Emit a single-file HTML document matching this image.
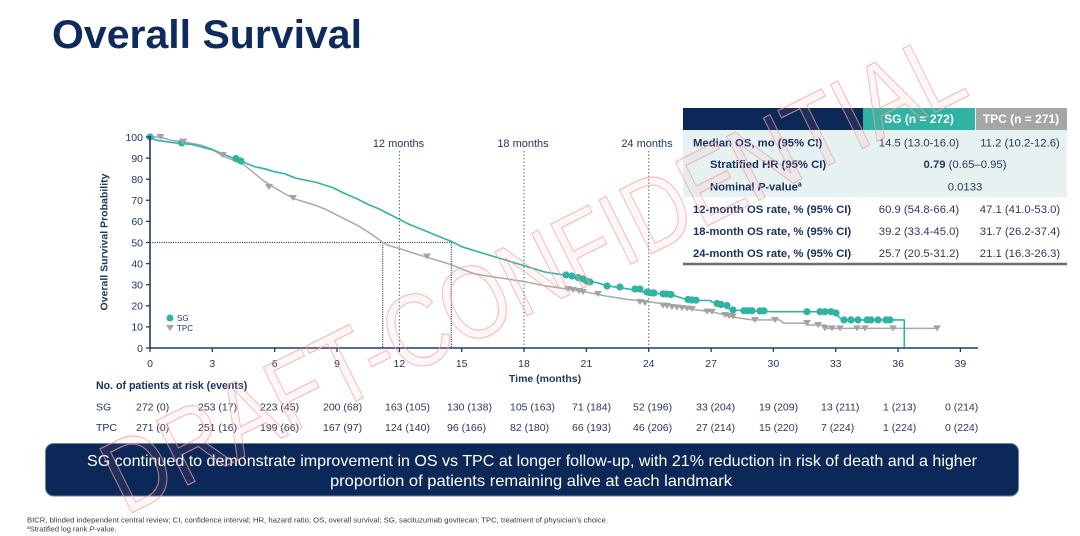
<!DOCTYPE html>
<html>
<head>
<meta charset="utf-8">
<style>
  html,body{margin:0;padding:0;background:#fff;}
  body{width:1080px;height:536px;overflow:hidden;}
  svg{display:block;}
  text{font-family:"Liberation Sans", Arial, sans-serif;}
</style>
</head>
<body>
<svg width="1080" height="536" viewBox="0 0 1080 536" xmlns="http://www.w3.org/2000/svg">
  <rect x="0" y="0" width="1080" height="536" fill="#ffffff"/>

  <!-- Title -->
  <text x="52" y="48" font-size="40" font-weight="bold" fill="#0d2b5c" textLength="310" lengthAdjust="spacingAndGlyphs">Overall Survival</text>

  <!-- ===== Table ===== -->
  <rect x="683" y="108" width="180" height="22" fill="#0c2858"/>
  <rect x="863" y="108" width="112" height="22" fill="#2fb3a2"/>
  <rect x="976" y="108" width="91" height="22" fill="#a6a6a6"/>
  <text x="919" y="123" font-size="12" font-weight="bold" fill="#ffffff" text-anchor="middle">SG (n = 272)</text>
  <text x="1021" y="123" font-size="12" font-weight="bold" fill="#ffffff" text-anchor="middle">TPC (n = 271)</text>
  <rect x="683" y="130" width="384" height="67" fill="#e6f1f1"/>
  <g font-size="11.3" font-weight="bold" fill="#1b2f5e">
    <text x="693" y="146.5">Median OS, mo (95% CI)</text>
    <text x="710" y="168">Stratified HR (95% CI)</text>
    <text x="710" y="190.5">Nominal <tspan font-style="italic">P</tspan>-value<tspan font-size="7" dy="-4">a</tspan></text>
    <text x="693" y="213">12-month OS rate, % (95% CI)</text>
    <text x="693" y="235">18-month OS rate, % (95% CI)</text>
    <text x="693" y="257">24-month OS rate, % (95% CI)</text>
  </g>
  <g font-size="11.3" fill="#2b3a58" text-anchor="middle">
    <text x="919" y="146.5">14.5 (13.0-16.0)</text>
    <text x="1020" y="146.5">11.2 (10.2-12.6)</text>
    <text x="965" y="168"><tspan font-weight="bold">0.79</tspan> (0.65–0.95)</text>
    <text x="965" y="190.5">0.0133</text>
    <text x="919" y="213">60.9 (54.8-66.4)</text>
    <text x="1020" y="213">47.1 (41.0-53.0)</text>
    <text x="919" y="235">39.2 (33.4-45.0)</text>
    <text x="1020" y="235">31.7 (26.2-37.4)</text>
    <text x="919" y="257">25.7 (20.5-31.2)</text>
    <text x="1020" y="257">21.1 (16.3-26.3)</text>
  </g>
  <line x1="683" y1="264" x2="1067" y2="264" stroke="#6e6e6e" stroke-width="2.5"/>

  <!-- ===== Chart ===== -->
  <g stroke="#5b6b88" stroke-width="1" stroke-dasharray="1.5 2" fill="none">
    <line x1="399.4" y1="151" x2="399.4" y2="348"/>
    <line x1="524" y1="151" x2="524" y2="348"/>
    <line x1="648.7" y1="151" x2="648.7" y2="348"/>
  </g>
  <g font-size="11" fill="#1f3864" text-anchor="middle">
    <text x="398.5" y="147">12 months</text>
    <text x="523" y="147">18 months</text>
    <text x="647" y="147">24 months</text>
  </g>
  <g stroke="#1f3864" stroke-width="1.2" stroke-dasharray="1 1.3" fill="none">
    <line x1="150" y1="242.5" x2="451.3" y2="242.5"/>
    <line x1="382.7" y1="242.5" x2="382.7" y2="348"/>
    <line x1="451.3" y1="242.5" x2="451.3" y2="348"/>
  </g>

  <!-- TPC curve -->
  <polyline fill="none" stroke="#a9a9a9" stroke-width="1.5" stroke-linejoin="round" points="
    150,137 160.4,137 165,138.5 170.8,140.2 183.2,141.6 192,143.5 202,145.4 212.3,149.2 222.7,156 233.1,160.2 243.5,164.4 253.9,172.9 264.3,181.3 274.7,187.6 285.1,194 295.5,199.2 305.9,202.4 316.2,205.6 326.6,209.8 337,215.1 347.4,220.3 357.8,225.6 368.2,232 378.6,239.3 382.7,242.5 389,245.7 399.4,248.4 409.8,252 420.1,255.2 430.5,258.3 440.9,261.5 451.3,264.7 461.7,268.9 472.1,273.1 482.5,275.2 503.3,278.4 524,281.5 544.8,285.8 565.6,288.9 586.4,292.1 607.2,296.3 627.9,299.5 648.7,301.6 669.5,304.7 690.3,309 711.1,311.7 721.5,314.2 731.8,316.8 742,318.5 752.6,319.9 779.6,319.9 783.8,323.1 804.6,323.1 806.6,325 825.4,325 827.4,328.4 937.6,328.4"/>

  <!-- SG curve -->
  <polyline fill="none" stroke="#2fb3a2" stroke-width="1.6" stroke-linejoin="round" points="
    150,137 156.2,140.2 170.8,142.3 191.6,144.4 212.3,149.7 222.7,153.9 233.1,158.1 243.5,162.3 253.9,166.5 264.3,168.7 274.7,171.8 285.1,173.9 295.5,178.1 316.2,182.4 332.9,187.6 343.3,192.9 357.8,199.2 368.2,204.5 378.6,208.7 389,214 399.4,219.3 409.8,224.6 420.1,228.8 430.5,233 440.9,237.2 451.3,241.4 461.7,246.7 482.5,253.1 503.3,259.4 524,265.7 534.4,268.9 544.8,272 565.6,275.2 576,277.3 586.4,280.5 596.8,282.6 607.2,285.8 627.9,288.9 648.7,293.1 669.5,294.2 679.9,297.4 690.3,300.5 711.1,300.5 711.1,301.6 721.5,304.7 731.8,310 752.6,311.1 773.4,311.7 835.7,311.7 838,316 842,319.9 904.3,319.9 904.3,348"/>

  <!-- SG censor marks -->
  <g fill="#2fb3a2">
    <circle cx="150" cy="137" r="3.6"/>
    <circle cx="181.7" cy="143" r="3.6"/>
    <circle cx="236" cy="158.5" r="3.6"/>
    <circle cx="241" cy="161" r="3.6"/>
    <circle cx="566" cy="275" r="3.6"/>
    <circle cx="572" cy="276" r="3.6"/>
    <circle cx="578" cy="277.5" r="3.6"/>
    <circle cx="583" cy="279" r="3.6"/>
    <circle cx="586.5" cy="281" r="3.6"/>
    <circle cx="590" cy="282" r="3.6"/>
    <circle cx="607" cy="286" r="3.6"/>
    <circle cx="620" cy="287" r="3.6"/>
    <circle cx="635" cy="289" r="3.6"/>
    <circle cx="640" cy="289" r="3.6"/>
    <circle cx="647" cy="292" r="3.6"/>
    <circle cx="651" cy="292.8" r="3.6"/>
    <circle cx="654" cy="293" r="3.6"/>
    <circle cx="663" cy="293.8" r="3.6"/>
    <circle cx="667" cy="294" r="3.6"/>
    <circle cx="671" cy="294.5" r="3.6"/>
    <circle cx="688" cy="299.5" r="3.6"/>
    <circle cx="692" cy="300" r="3.6"/>
    <circle cx="696" cy="300.2" r="3.6"/>
    <circle cx="717" cy="303.5" r="3.6"/>
    <circle cx="721" cy="304.5" r="3.6"/>
    <circle cx="727" cy="305.5" r="3.6"/>
    <circle cx="733" cy="310" r="3.6"/>
    <circle cx="744" cy="310.7" r="3.6"/>
    <circle cx="748" cy="310.7" r="3.6"/>
    <circle cx="752" cy="310.7" r="3.6"/>
    <circle cx="760" cy="310.9" r="3.6"/>
    <circle cx="764" cy="310.9" r="3.6"/>
    <circle cx="807" cy="311.7" r="3.6"/>
    <circle cx="820" cy="311.7" r="3.6"/>
    <circle cx="825" cy="311.7" r="3.6"/>
    <circle cx="831" cy="311.7" r="3.6"/>
    <circle cx="836" cy="313" r="3.6"/>
    <circle cx="844" cy="319.9" r="3.6"/>
    <circle cx="851" cy="319.9" r="3.6"/>
    <circle cx="858" cy="319.9" r="3.6"/>
    <circle cx="867" cy="319.9" r="3.6"/>
    <circle cx="871" cy="319.9" r="3.6"/>
    <circle cx="878" cy="319.9" r="3.6"/>
    <circle cx="886" cy="319.9" r="3.6"/>
    <circle cx="890" cy="319.9" r="3.6"/>
  </g>

  <!-- TPC censor marks -->
  <g fill="#a3a3a3">
    <path d="M156.4,134 h8 l-4,6 z"/>
    <path d="M179.2,138.6 h8 l-4,6 z"/>
    <path d="M218.7,152 h8 l-4,6 z"/>
    <path d="M265,184 h8 l-4,6 z"/>
    <path d="M289,195 h8 l-4,6 z"/>
    <path d="M423,253.5 h8 l-4,6 z"/>
    <path d="M564,286 h8 l-4,6 z"/>
    <path d="M569,287 h8 l-4,6 z"/>
    <path d="M575,288 h8 l-4,6 z"/>
    <path d="M579,289 h8 l-4,6 z"/>
    <path d="M594,291 h8 l-4,6 z"/>
    <path d="M636,299 h8 l-4,6 z"/>
    <path d="M641,300 h8 l-4,6 z"/>
    <path d="M659,302.5 h8 l-4,6 z"/>
    <path d="M663,303 h8 l-4,6 z"/>
    <path d="M668,304 h8 l-4,6 z"/>
    <path d="M673,304.5 h8 l-4,6 z"/>
    <path d="M678,305 h8 l-4,6 z"/>
    <path d="M683,305.5 h8 l-4,6 z"/>
    <path d="M688,306 h8 l-4,6 z"/>
    <path d="M703,308.5 h8 l-4,6 z"/>
    <path d="M708,308.7 h8 l-4,6 z"/>
    <path d="M721,312 h8 l-4,6 z"/>
    <path d="M725,313 h8 l-4,6 z"/>
    <path d="M729,313.5 h8 l-4,6 z"/>
    <path d="M751,317 h8 l-4,6 z"/>
    <path d="M771,317 h8 l-4,6 z"/>
    <path d="M803,320 h8 l-4,6 z"/>
    <path d="M814,322 h8 l-4,6 z"/>
    <path d="M821,325.4 h8 l-4,6 z"/>
    <path d="M828,325.4 h8 l-4,6 z"/>
    <path d="M836,325.4 h8 l-4,6 z"/>
    <path d="M853,325.4 h8 l-4,6 z"/>
    <path d="M861,325.4 h8 l-4,6 z"/>
    <path d="M889,325.4 h8 l-4,6 z"/>
    <path d="M933,325.4 h8 l-4,6 z"/>
  </g>

  <!-- Axes -->
  <g stroke="#1f3a6e" stroke-width="1.6" fill="none">
    <line x1="150" y1="136" x2="150" y2="348.5"/>
    <line x1="149" y1="348" x2="978" y2="348"/>
  </g>
  <g stroke="#1f3a6e" stroke-width="1.3">
    <line x1="146" y1="137" x2="150" y2="137"/>
    <line x1="146" y1="158.1" x2="150" y2="158.1"/>
    <line x1="146" y1="179.2" x2="150" y2="179.2"/>
    <line x1="146" y1="200.3" x2="150" y2="200.3"/>
    <line x1="146" y1="221.4" x2="150" y2="221.4"/>
    <line x1="146" y1="242.5" x2="150" y2="242.5"/>
    <line x1="146" y1="263.6" x2="150" y2="263.6"/>
    <line x1="146" y1="284.7" x2="150" y2="284.7"/>
    <line x1="146" y1="305.8" x2="150" y2="305.8"/>
    <line x1="146" y1="326.9" x2="150" y2="326.9"/>
    <line x1="146" y1="348" x2="150" y2="348"/>
    <line x1="150" y1="348" x2="150" y2="352"/>
    <line x1="212.3" y1="348" x2="212.3" y2="352"/>
    <line x1="274.7" y1="348" x2="274.7" y2="352"/>
    <line x1="337" y1="348" x2="337" y2="352"/>
    <line x1="399.4" y1="348" x2="399.4" y2="352"/>
    <line x1="461.7" y1="348" x2="461.7" y2="352"/>
    <line x1="524" y1="348" x2="524" y2="352"/>
    <line x1="586.4" y1="348" x2="586.4" y2="352"/>
    <line x1="648.7" y1="348" x2="648.7" y2="352"/>
    <line x1="711.1" y1="348" x2="711.1" y2="352"/>
    <line x1="773.4" y1="348" x2="773.4" y2="352"/>
    <line x1="835.7" y1="348" x2="835.7" y2="352"/>
    <line x1="898.1" y1="348" x2="898.1" y2="352"/>
    <line x1="960.4" y1="348" x2="960.4" y2="352"/>
  </g>
  <g font-size="10.5" fill="#1f3864" text-anchor="end">
    <text x="143" y="140.8">100</text>
    <text x="143" y="161.9">90</text>
    <text x="143" y="183">80</text>
    <text x="143" y="204.1">70</text>
    <text x="143" y="225.2">60</text>
    <text x="143" y="246.3">50</text>
    <text x="143" y="267.4">40</text>
    <text x="143" y="288.5">30</text>
    <text x="143" y="309.6">20</text>
    <text x="143" y="330.7">10</text>
    <text x="143" y="351.8">0</text>
  </g>
  <g font-size="10.5" fill="#1f3864" text-anchor="middle">
    <text x="150" y="367">0</text>
    <text x="212.3" y="367">3</text>
    <text x="274.7" y="367">6</text>
    <text x="337" y="367">9</text>
    <text x="399.4" y="367">12</text>
    <text x="461.7" y="367">15</text>
    <text x="524" y="367">18</text>
    <text x="586.4" y="367">21</text>
    <text x="648.7" y="367">24</text>
    <text x="711.1" y="367">27</text>
    <text x="773.4" y="367">30</text>
    <text x="835.7" y="367">33</text>
    <text x="898.1" y="367">36</text>
    <text x="960.4" y="367">39</text>
  </g>
  <text x="545" y="382" font-size="10.5" font-weight="bold" fill="#1f3864" text-anchor="middle">Time (months)</text>
  <text transform="translate(107.5,242) rotate(-90)" font-size="10" font-weight="bold" fill="#1f3864" text-anchor="middle" textLength="137" lengthAdjust="spacingAndGlyphs">Overall Survival Probability</text>

  <!-- Legend -->
  <circle cx="170" cy="318" r="3.5" fill="#2fb3a2"/>
  <text x="177" y="321" font-size="8" fill="#1f3864">SG</text>
  <path d="M166,325 h8 l-4,6 z" fill="#a3a3a3"/>
  <text x="177" y="331" font-size="8" fill="#1f3864">TPC</text>

  <!-- ===== Risk table ===== -->
  <text x="96" y="389" font-size="10.6" font-weight="bold" fill="#1b2f5e">No. of patients at risk (events)</text>
  <g font-size="10.5" fill="#1b2f5e">
    <text x="96" y="410.5">SG</text>
    <text x="96" y="431">TPC</text>
  </g>
  <g font-size="10.5" fill="#2b3a58">
    <text x="136" y="410.5">272 (0)</text>
    <text x="198" y="410.5">253 (17)</text>
    <text x="260" y="410.5">223 (45)</text>
    <text x="323" y="410.5">200 (68)</text>
    <text x="385" y="410.5">163 (105)</text>
    <text x="447" y="410.5">130 (138)</text>
    <text x="510" y="410.5">105 (163)</text>
    <text x="572" y="410.5">71 (184)</text>
    <text x="633" y="410.5">52 (196)</text>
    <text x="696" y="410.5">33 (204)</text>
    <text x="759" y="410.5">19 (209)</text>
    <text x="821" y="410.5">13 (211)</text>
    <text x="883" y="410.5">1 (213)</text>
    <text x="945" y="410.5">0 (214)</text>

    <text x="136" y="431">271 (0)</text>
    <text x="198" y="431">251 (16)</text>
    <text x="260" y="431">199 (66)</text>
    <text x="323" y="431">167 (97)</text>
    <text x="385" y="431">124 (140)</text>
    <text x="447" y="431">96 (166)</text>
    <text x="510" y="431">82 (180)</text>
    <text x="572" y="431">66 (193)</text>
    <text x="633" y="431">46 (206)</text>
    <text x="696" y="431">27 (214)</text>
    <text x="759" y="431">15 (220)</text>
    <text x="821" y="431">7 (224)</text>
    <text x="883" y="431">1 (224)</text>
    <text x="945" y="431">0 (224)</text>
  </g>

  <!-- ===== Bottom box ===== -->
  <rect x="45.5" y="443.5" width="973" height="52.5" rx="8" ry="8" fill="#0c2858" stroke="#6d7fa3" stroke-width="1"/>
  <text x="532" y="466" font-size="16" fill="#ffffff" text-anchor="middle" textLength="890" lengthAdjust="spacingAndGlyphs">SG continued to demonstrate improvement in OS vs TPC at longer follow-up, with 21% reduction in risk of death and a higher</text>
  <text x="531" y="486" font-size="16" fill="#ffffff" text-anchor="middle" textLength="402" lengthAdjust="spacingAndGlyphs">proportion of patients remaining alive at each landmark</text>

  <!-- Footnotes -->
  <text x="27" y="522.5" font-size="7.4" fill="#333a48" textLength="581" lengthAdjust="spacingAndGlyphs">BICR, blinded independent central review; CI, confidence interval; HR, hazard ratio; OS, overall survival; SG, sacituzumab govitecan; TPC, treatment of physician’s choice.</text>
  <text x="27" y="531.5" font-size="7.4" fill="#333a48"><tspan font-size="5" dy="-2.5">a</tspan><tspan dy="2.5">Stratified log rank </tspan><tspan font-style="italic">P</tspan>-value.</text>

  <!-- Watermark -->
  <text transform="translate(532,272) rotate(-26.5)" x="0" y="37" font-size="104" text-anchor="middle" fill="#ff9a9a" fill-opacity="0.08" stroke="#f4a3a3" stroke-opacity="0.7" stroke-width="1.2" textLength="945" lengthAdjust="spacingAndGlyphs">DRAFT-CONFIDENTIAL</text>
</svg>
</body>
</html>
